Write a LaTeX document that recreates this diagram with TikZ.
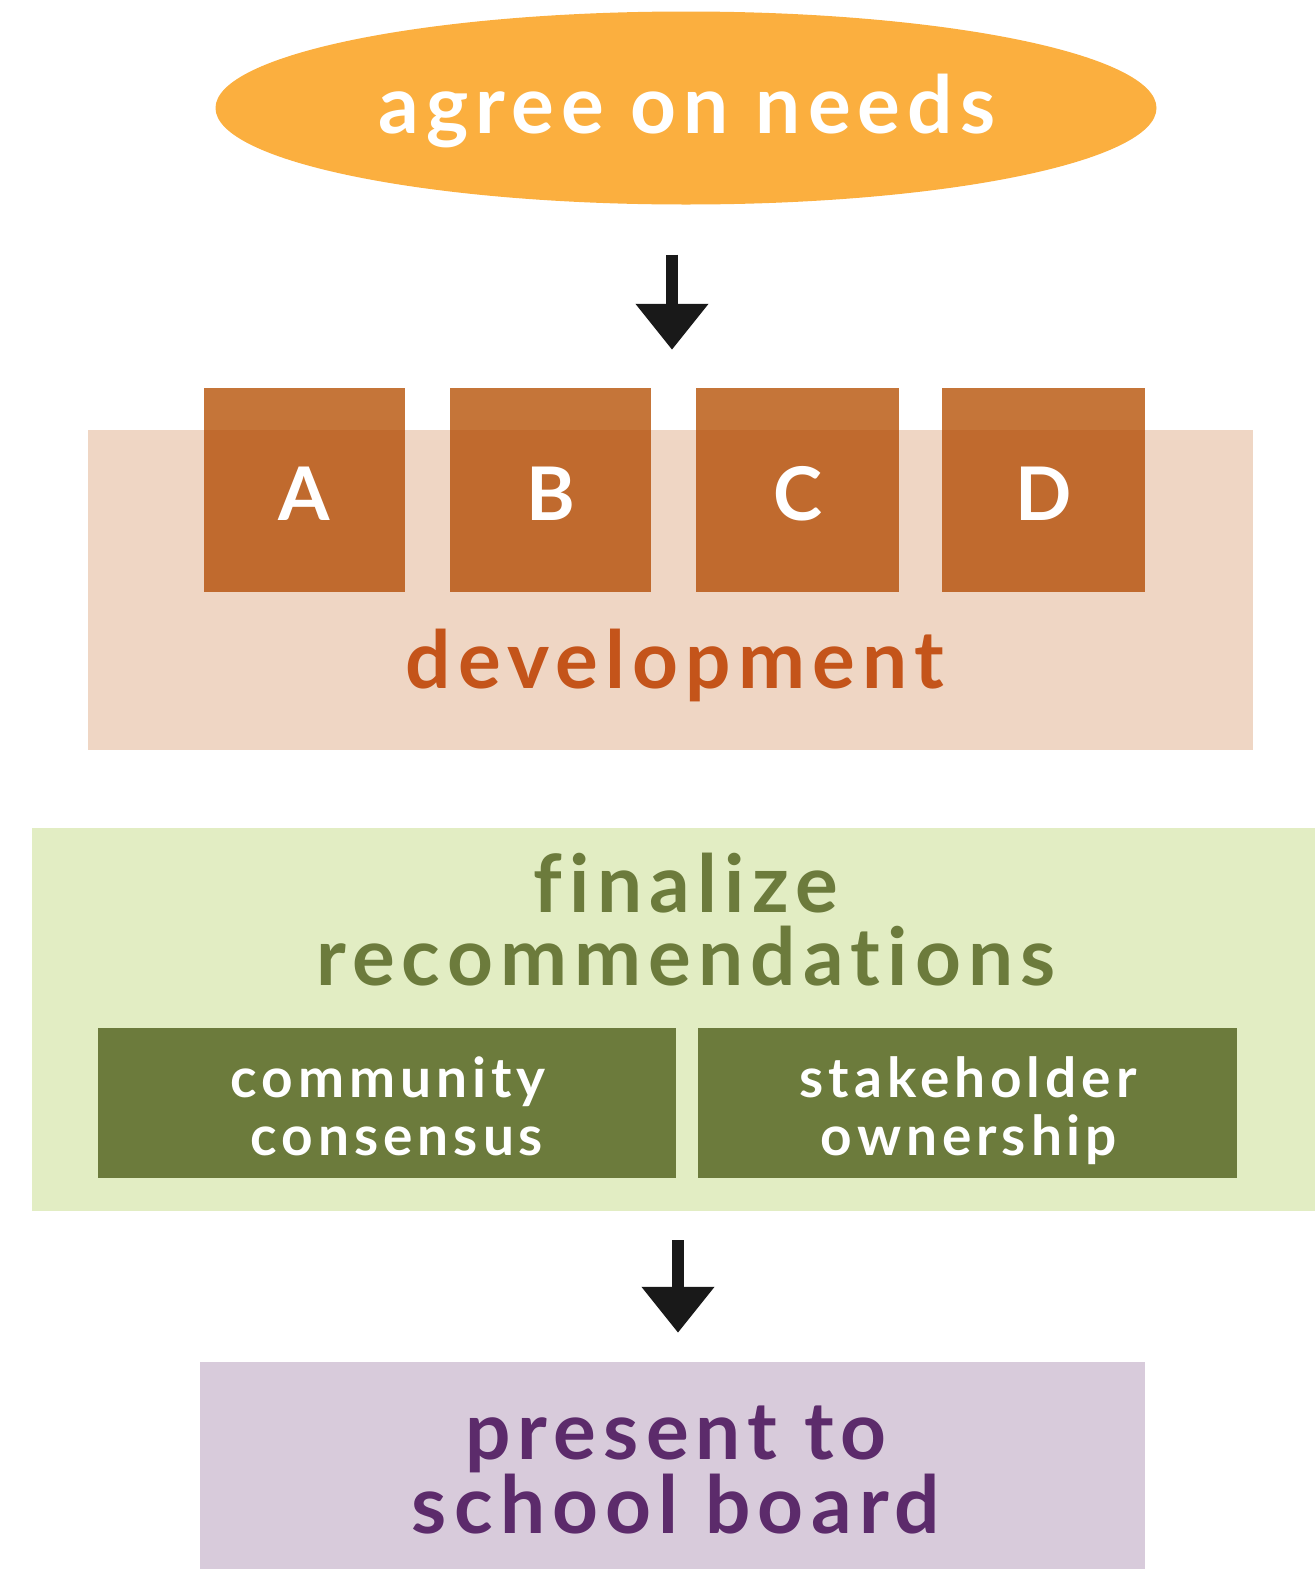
\documentclass[tikz,border=0pt]{standalone}
\usepackage{fontspec}
\setmainfont{Lato}[LetterSpace=9, Ligatures=NoCommon]
\usetikzlibrary{arrows.meta,shapes.geometric}
\definecolor{needfill}{HTML}{FBAF3F}
\definecolor{sqfill}{HTML}{C06A2E}
\definecolor{sqtop}{HTML}{C57539}
\definecolor{devbg}{HTML}{EFD6C4}
\definecolor{devtext}{HTML}{C4541A}
\definecolor{finbg}{HTML}{E2EDC3}
\definecolor{fingreen}{HTML}{6C7B3C}
\definecolor{presbg}{HTML}{D8CBDB}
\definecolor{prestext}{HTML}{5C2B6B}
\tikzset{
  bigtext/.style={font=\bfseries\fontsize{80}{73}\selectfont, align=center, inner sep=0},
  smalltext/.style={font=\bfseries\fontsize{55}{60}\selectfont, align=center, inner sep=0, text=white},
  lettertext/.style={font=\bfseries\fontsize{74}{74}\selectfont, inner sep=0, text=white},
  panel/.style={draw=none, inner sep=0, rectangle},
  square/.style={panel, fill=sqfill, minimum width=202pt, minimum height=204pt},
  greenbox/.style={panel, fill=fingreen, minimum height=150pt},
  bigarrow/.style={line width=12pt, -{Triangle[width=70pt,length=46pt]}, black!90},
}
\begin{document}
\begin{tikzpicture}[x=1pt,y=-1pt]
\useasboundingbox (0,0) rectangle (1315,1569);
% top ellipse
\node[ellipse, fill=needfill, minimum width=941pt, minimum height=193pt, inner sep=0] (need) at (686,108) {};
\node[bigtext, text=white, anchor=base] (needlbl) at (687,133) {agree on needs};
% development panel
\node[panel, fill=devbg, minimum width=1165pt, minimum height=320pt] (dev) at (670.5,590) {};
\foreach \nm/\cx/\w in {A/304.5/201, B/550.5/201, C/797.5/203, D/1043.5/203}{
  \node[square, minimum width=\w pt] (sq\nm) at (\cx,490) {};
  \fill[sqtop] (sq\nm.north west) rectangle ([yshift=-42pt]sq\nm.north east);
  \node[lettertext, anchor=base] (lbl\nm) at (\cx,520) {\nm};
}
\node[bigtext, text=devtext, anchor=base] (devlbl) at (675,688) {development};
% finalize panel
\node[panel, fill=finbg, minimum width=1283pt, minimum height=383pt] (fin) at (673.5,1019.5) {};
\node[bigtext, text=fingreen, anchor=base] (finlbl) at (686,985) {finalize\\recommendations};
\node[greenbox, minimum width=578pt] (comm) at (387,1103) {};
\node[greenbox, minimum width=539pt] (stake) at (967.5,1103) {};
\node[smalltext, anchor=base] (comm1) at (388,1097) {community};
\node[smalltext, anchor=base] (comm2) at (397,1155) {consensus};
\node[smalltext, anchor=base] (stake1) at (968,1097) {stakeholder};
\node[smalltext, anchor=base] (stake2) at (969,1155) {ownership};
% present panel
\node[panel, fill=presbg, minimum width=945pt, minimum height=210pt] (pres) at (672.5,1467) {};
\node[bigtext, font=\bfseries\fontsize{80}{71}\selectfont, text=prestext, anchor=base] (preslbl) at (676,1533) {present to\\school board};
% arrows
\path (need.south) ++(-14,50) coordinate (a1s);
\path (dev.north) ++(1.5,-80) coordinate (a1e);
\path (fin.south) ++(4.5,29) coordinate (a2s);
\path (pres.north) ++(5.5,-29) coordinate (a2e);
\draw[bigarrow] (a1s) -- (a1e);
\draw[bigarrow] (a2s) -- (a2e);
\end{tikzpicture}
\end{document}
